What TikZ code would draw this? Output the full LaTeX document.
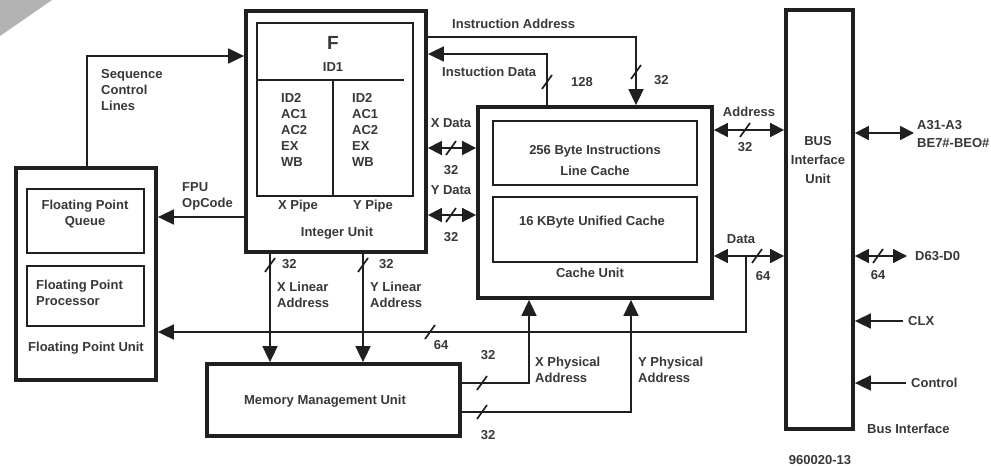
\documentclass[tikz,border=0pt]{standalone}
\usepackage{fontspec}
\setmainfont{Liberation Sans}
\usepackage{xcolor}
\usepackage{tikz}
\usetikzlibrary{arrows.meta,calc}
\colorlet{lineC}{black!88}
\colorlet{textC}{black!78}
\newcommand{\diagfont}{\fontsize{13}{16}\selectfont\bfseries}

\begin{document}
\begin{tikzpicture}[x=1pt,y=-1pt,
    unit/.style={draw=lineC, line width=3.8pt, inner sep=0pt},
    part/.style={draw=lineC, line width=1.8pt, inner sep=0pt},
    lbl/.style={text=textC, font=\diagfont, align=center, inner sep=0pt},
    wire/.style={draw=lineC, line width=1.7pt},
    arr/.style={wire, -{Triangle[length=16pt,width=15pt]}},
    biarr/.style={wire, {Triangle[length=14pt,width=14pt]}-{Triangle[length=14pt,width=14pt]}},
    busmark/.pic={\draw[wire] (-5,7) -- (5,-7);}]
        \useasboundingbox (0,0) rectangle (991,466);
        \fill[white] (0,0) rectangle (991,466);
        % Corner badge
        \fill[gray!60] (0,0) -- (52,0) -- (0,36) -- cycle;
        % Floating point unit
        \node[unit, minimum width=140pt, minimum height=212pt] (fpu) at (86,274) {};
        \node[part, minimum width=117pt, minimum height=64pt] (fpq) at (85.5,221) {};
        \node[part, minimum width=117pt, minimum height=60pt] (fpp) at (85.5,296) {};
        \node[lbl] (fpqT) at (85,214) {Floating Point\\Queue};
        \node[lbl, align=left, anchor=west] (fppT) at (36,293) {Floating Point\\Processor};
        \node[lbl] (fpuT) at (86,348) {Floating Point Unit};
        % Integer unit with X and Y pipes
        \node[unit, minimum width=180pt, minimum height=241pt] (iu) at (336,131.5) {};
        \node[part, minimum width=156pt, minimum height=173pt] (pipes) at (335,109.5) {};
        \coordinate (split) at (257,80);
        \coordinate (mid) at (333,80);
        \draw[wire] (split) -- +(147,0);
        \draw[wire] (mid) -- (mid |- pipes.south);
        \node[lbl, font=\fontsize{19}{20}\selectfont\bfseries] (fT) at (333,43) {F};
        \node[lbl] (id1) at (333,67) {ID1};
        \node[lbl, align=left, anchor=west] (xstages) at (281,129.5) {ID2\\AC1\\AC2\\EX\\WB};
        \node[lbl, align=left, anchor=west] (ystages) at (352,129.5) {ID2\\AC1\\AC2\\EX\\WB};
        \node[lbl] (xpipe) at (298,206) {X Pipe};
        \node[lbl] (ypipe) at (373,206) {Y Pipe};
        \node[lbl] (iuT) at (337,233) {Integer Unit};
        % Cache unit
        \node[unit, minimum width=234pt, minimum height=191pt] (cache) at (595,202.5) {};
        \node[part, minimum width=204pt, minimum height=64pt] (ilc) at (595,153) {};
        \node[part, minimum width=204pt, minimum height=65pt] (ucache) at (595,229.5) {};
        \node[lbl] (ilcT) at (595,160.5) {256 Byte Instructions\\[5pt]Line Cache};
        \node[lbl] (ucT) at (592,222) {16 KByte Unified Cache};
        \node[lbl] (cacheT) at (590,273) {Cache Unit};
        % Memory management unit
        \node[unit, minimum width=253pt, minimum height=72pt] (mmu) at (333.5,400) {};
        \node[lbl] (mmuT) at (325,401) {Memory Management Unit};
        % Bus interface unit
        \node[unit, minimum width=67pt, minimum height=419pt] (biu) at (819.5,219.5) {};
        \node[lbl] (biuT) at (818,160) {BUS\\[3pt]Interface\\[3pt]Unit};
        \node[lbl, anchor=west] (busT) at (867,429) {Bus Interface};
        \node[lbl] (figno) at (820,460) {960020-13};
        % Sequence control lines
        \coordinate (seqC) at (87,56);
        \draw[arr] (fpu.north -| seqC) |- (iu.west |- seqC);
        \node[lbl, align=left, anchor=west] (seqT) at (101,90) {Sequence\\Control\\Lines};
        % FPU opcode
        \coordinate (opC) at (200,217);
        \draw[arr] (iu.west |- opC) -- (fpu.east |- opC);
        \node[lbl, align=left, anchor=west] (opT) at (182,196) {FPU\\OpCode};
        % Instruction address and data
        \coordinate (iaC) at (636,37);
        \draw[arr] (iu.east |- iaC) -| (cache.north -| iaC);
        \pic at (636,72) {busmark};
        \node[lbl, anchor=west] (iaT) at (452,24) {Instruction Address};
        \node[lbl, anchor=west] (iaW) at (654,80) {32};
        \coordinate (idC) at (547,54);
        \draw[arr] (cache.north -| idC) |- (iu.east |- idC);
        \pic at (547,82) {busmark};
        \node[lbl, anchor=west] (idT) at (442,72) {Instuction Data};
        \node[lbl, anchor=west] (idW) at (571,82) {128};
        % X and Y data
        \coordinate (xdC) at (451,148);
        \draw[biarr] (iu.east |- xdC) -- (cache.west |- xdC);
        \pic at (xdC) {busmark};
        \node[lbl] (xdT) at (451,123) {X Data};
        \node[lbl] (xdW) at (451,170) {32};
        \coordinate (ydC) at (451,215);
        \draw[biarr] (iu.east |- ydC) -- (cache.west |- ydC);
        \pic at (ydC) {busmark};
        \node[lbl] (ydT) at (451,190) {Y Data};
        \node[lbl] (ydW) at (451,237) {32};
        % Address and data to the bus unit
        \coordinate (adC) at (745,130);
        \draw[biarr] (cache.east |- adC) -- (biu.west |- adC);
        \pic at (adC) {busmark};
        \node[lbl] (adT) at (749,112) {Address};
        \node[lbl] (adW) at (745,147) {32};
        \coordinate (daC) at (757,256);
        \draw[biarr] (cache.east |- daC) -- (biu.west |- daC);
        \pic at (daC) {busmark};
        \node[lbl] (daT) at (741,239) {Data};
        \node[lbl] (daW) at (763,276) {64};
        % 64 bit path to the floating point unit
        \coordinate (fpbus) at (746,332);
        \draw[arr] (fpbus |- daC) |- (fpu.east |- fpbus);
        \pic at (430,332) {busmark};
        \node[lbl] (fpW) at (441,345) {64};
        % Linear addresses
        \coordinate (xlC) at (270,265);
        \draw[arr] (iu.south -| xlC) -- (mmu.north -| xlC);
        \pic at (xlC) {busmark};
        \node[lbl, anchor=west] (xlW) at (282,264) {32};
        \node[lbl, align=left, anchor=west] (xlT) at (277,295) {X Linear\\Address};
        \coordinate (ylC) at (363,265);
        \draw[arr] (iu.south -| ylC) -- (mmu.north -| ylC);
        \pic at (ylC) {busmark};
        \node[lbl, anchor=west] (ylW) at (379,264) {32};
        \node[lbl, align=left, anchor=west] (ylT) at (370,295) {Y Linear\\Address};
        % Physical addresses
        \coordinate (xpC) at (529,383);
        \draw[arr] (mmu.east |- xpC) -| (cache.south -| xpC);
        \pic at (482,383) {busmark};
        \node[lbl] (xpW) at (488,355) {32};
        \node[lbl, align=left, anchor=west] (xpT) at (535,370) {X Physical\\Address};
        \coordinate (ypC) at (631,412);
        \draw[arr] (mmu.east |- ypC) -| (cache.south -| ypC);
        \pic at (482,412) {busmark};
        \node[lbl] (ypW) at (488,435) {32};
        \node[lbl, align=left, anchor=west] (ypT) at (638,370) {Y Physical\\Address};
        % External bus pins
        \coordinate (aPin) at (914,133);
        \draw[biarr] (biu.east |- aPin) -- (aPin);
        \node[lbl, align=left, anchor=west] (aT) at (917,134) {A31-A3\\[2pt]BE7\#-BEO\#};
        \coordinate (dPin) at (907,256);
        \draw[biarr] (biu.east |- dPin) -- (dPin);
        \pic at (878,256) {busmark};
        \node[lbl, anchor=west] (dT) at (915,256) {D63-D0};
        \node[lbl] (dW) at (878,275) {64};
        \coordinate (clxPin) at (903,321);
        \draw[arr] (clxPin) -- (biu.east |- clxPin);
        \node[lbl, anchor=west] (clxT) at (908,321) {CLX};
        \coordinate (ctlPin) at (906,383);
        \draw[arr] (ctlPin) -- (biu.east |- ctlPin);
        \node[lbl, anchor=west] (ctlT) at (911,383) {Control};
      \end{tikzpicture}
\end{document}
